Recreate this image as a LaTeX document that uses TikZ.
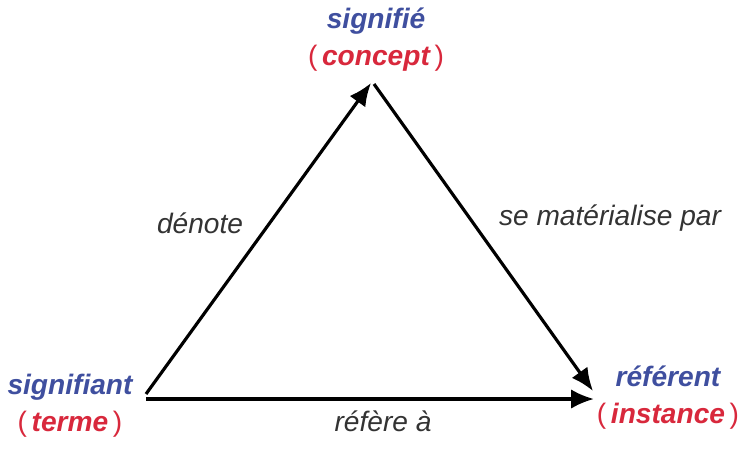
\documentclass[tikz,border=0pt]{standalone}
\usepackage{fontspec}
\setmainfont{Liberation Sans}
\usepackage{tikz}
\usepackage{xcolor}
\usetikzlibrary{arrows.meta}

\definecolor{bleusig}{HTML}{3F4F9F}
\definecolor{rougesig}{HTML}{D8283C}
\definecolor{grislab}{HTML}{333333}

\newcommand{\parenth}[1]{\textcolor{rougesig}{\textnormal{(}\,#1\,\textnormal{)}}}

\tikzset{
  pole/.style={font=\fontsize{16}{19}\selectfont\bfseries\itshape, align=center, inner sep=0pt},
  relation/.style={font=\fontsize{16}{19}\selectfont\itshape, text=grislab, inner sep=0pt},
  fleche/.style={line width=1.8pt, -{Latex[length=13pt,width=11pt]}}
}

\begin{document}
\begin{tikzpicture}[x=0.02cm, y=-0.02cm]
\useasboundingbox (0,0) rectangle (742,450);

% les trois poles du triangle
\node[pole] (signifie) at (376,40) {\textcolor{bleusig}{signifié}\\[2pt]\parenth{concept}};
\node[pole] (signifiant) at (70,406) {\textcolor{bleusig}{signifiant}\\[2pt]\parenth{terme}};
\node[pole] (referent) at (668,398) {\textcolor{bleusig}{référent}\\[2pt]\parenth{instance}};

% sommets
\coordinate (haut) at (371,83);
\coordinate (hautd) at (374,84);
\coordinate (gauche) at (146,394);
\coordinate (gaucheh) at (146,399);
\coordinate (droite) at (593,391);
\coordinate (droiteh) at (594,399);

\draw[fleche] (gauche) -- (haut);
\draw[fleche] (hautd) -- (droite);
\draw[fleche] (gaucheh) -- (droiteh);

% relations
\node[relation] (denote) at (200,223) {dénote};
\node[relation] (materialise) at (610,218) {se matérialise par};
\node[relation] (refere) at (383,421) {réfère à};
\end{tikzpicture}
\end{document}
